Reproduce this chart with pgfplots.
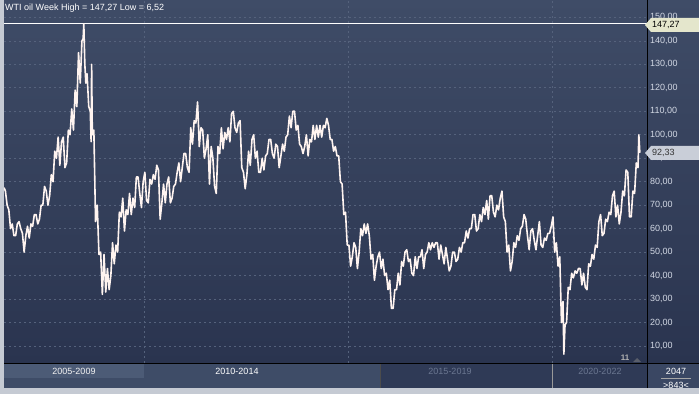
\documentclass[border=0pt]{standalone}
\usepackage{fontspec}
\setmainfont{Liberation Sans}
\usepackage{pgfplots}
\pgfplotsset{compat=1.18}
\definecolor{bgtop}{HTML}{3F4C67}
\definecolor{bgbot}{HTML}{2A344F}
\definecolor{gridc}{HTML}{55627C}
\definecolor{linec}{HTML}{FFF4F0}
\definecolor{framec}{HTML}{C5CAD3}
\definecolor{tickc}{HTML}{D2D8E4}
\definecolor{cellA}{HTML}{3E4C67}
\definecolor{cellHi}{HTML}{4C5B76}
\definecolor{cellD}{HTML}{2F3A56}
\definecolor{cellP}{HTML}{3A4763}
\definecolor{dimtext}{HTML}{6B7791}
\definecolor{tagY}{HTML}{E4E6CC}
\definecolor{tagG}{HTML}{C9CED8}
\pgfplotstableread{
m v
0.85 77.5
1.25 76
1.75 70
2.25 68
2.75 60
3.25 62
3.75 57
4.25 57
4.75 62
5.25 63
5.75 60
6.25 58
6.75 50
7.25 57
7.75 61
8.25 56
8.75 62
9.25 61
9.75 66
10.25 66
10.75 62
11.25 64
11.75 70
12.25 70
12.75 78
13.25 76
13.75 70
14.25 74
14.75 83
15.25 80
15.75 93
16.25 90
16.75 99
17.25 87
17.75 97
18.25 99
18.75 86
19.25 88
19.75 102
20.25 100
20.75 111
21.25 102
21.75 119
22.25 112
22.75 135
23.25 122
23.75 140
24.1 141
24.3 147.27
24.6 130
24.9 122
25.25 126
25.75 112
26.2 110
26.45 97
26.6 130
26.8 100
27.25 102
27.75 63
28.25 70
28.75 49
29.25 50
29.75 32
30.25 49
30.75 33
31.25 43
31.75 34
32.25 40
32.75 54
33.25 45
33.75 53
34.25 50
34.75 67
35.25 65
35.75 73
36.25 59
36.75 68
37.25 66
37.75 75
38.25 66
38.75 73
39.25 69
39.75 82
40.25 82
40.75 75
41.25 69
41.75 80
42.25 84
42.75 72
43.25 71
43.75 81
44.25 79
44.75 83
45.25 81
45.75 87
46.25 85
46.75 64
47.25 71
47.75 79
48.25 71
48.75 79
49.25 82
49.75 71
50.25 73
50.75 78
51.25 79
51.75 84
52.25 88
52.75 80
53.25 86
53.75 92
54.25 92
54.75 86
55.25 84
55.75 103
56.25 96
56.75 106
57.25 105
57.75 114
58.25 95
58.75 103
59.25 102
59.75 90
60.25 94
60.75 100
61.25 79
61.75 95
62.25 90
62.75 78
63.25 75
63.75 95
64.25 92
64.75 103
65.25 94
65.75 101
66.25 98
66.75 103
67.25 97
67.75 109
68.25 110
68.75 103
69.25 101
69.75 105
70.25 106
70.75 86
71.25 84
71.75 77
72.25 83
72.75 93
73.25 87
73.75 98
74.25 100
74.75 90
75.25 93
75.75 84
76.25 84
76.75 90
77.25 85
77.75 91
78.25 92
78.75 98
79.25 98
79.75 92
80.25 90
80.75 96
81.25 95
81.75 86
82.25 91
82.75 96
83.25 93
83.75 99
84.25 100
84.75 108
85.25 103
85.75 110
86.25 110
86.75 102
87.25 104
87.75 96
88.25 95
88.75 92
89.25 95
89.75 100
90.25 91
90.75 98
91.25 97
91.75 104
92.25 98
92.75 104
93.25 99
93.75 104
94.25 99
94.75 104
95.25 103
95.75 107
96.25 104
96.75 98
97.25 98
97.75 93
98.25 95
98.75 91
99.25 91
99.75 80
100.25 79
100.75 66
101.25 67
101.75 53
102.25 53
102.75 44
103.25 48
103.75 54
104.25 52
104.75 43
105.25 50
105.75 60
106.25 57
106.75 62
107.25 58
107.75 62
108.25 57
108.75 47
109.25 49
109.75 38
110.25 44
110.75 48
111.25 50
111.75 43
112.25 47
112.75 40
113.25 41
113.75 34
114.25 38
114.75 26
115.25 26
115.75 34
116.25 34
116.75 41
117.25 36
117.75 46
118.25 44
118.75 50
119.25 51
119.75 46
120.25 47
120.75 41
121.25 40
121.75 48
122.25 43
122.75 48
123.25 48
123.75 51
124.25 43
124.75 49
125.25 50
125.75 54
126.25 51
126.75 54
127.25 52
127.75 54
128.25 54
128.75 47
129.25 53
129.75 49
130.25 45
130.75 52
131.25 47
131.75 42
132.25 44
132.75 50
133.25 50
133.75 46
134.25 47
134.75 52
135.25 50
135.75 54
136.25 54
136.75 59
137.25 56
137.75 60
138.25 60
138.75 66
139.25 66
139.75 59
140.25 60
140.75 66
141.25 63
141.75 69
142.25 66
142.75 72
143.25 64
143.75 74
144.25 74
144.75 67
145.25 65
145.75 70
146.25 68
146.75 73
147.25 76
147.75 65
148.25 63
148.75 50
149.25 53
149.75 42
150.25 46
150.75 54
151.25 52
151.75 57
152.25 55
152.75 60
153.25 61
153.75 66
154.25 64
154.75 57
155.25 51
155.75 59
156.25 60
156.75 55
157.25 51
157.75 57
158.25 63
158.75 53
159.25 52
159.75 56
160.25 55
160.75 58
161.25 58
161.75 61
162.25 65
162.75 50
163.25 54
163.75 44
164.25 48
164.75 20
165.2 29
165.45 6.52
165.8 19
166.25 20
166.75 35
167.25 34
167.75 41
168.25 39
168.75 42
169.25 41
169.75 43
170.25 43
170.75 36
171.25 41
171.75 35
172.25 34
172.75 45
173.25 44
173.75 49
174.25 47
174.75 53
175.25 52
175.75 63
176.25 66
176.75 57
177.25 58
177.75 64
178.25 63
178.75 67
179.25 66
179.75 74
180.25 76
180.75 65
181.25 70
181.75 62
182.25 67
182.75 76
183.25 74
183.75 85
184.25 84
184.75 65
185.25 65
185.75 76
186.25 75
186.75 88
187.25 86
187.5 100
187.8 92.33
}\oil
\begin{document}
\begin{tikzpicture}[x=1pt,y=1pt]
\useasboundingbox (0,0) rectangle (699,394);
\fill[framec] (0,0) rectangle (699,394);
\shade[top color=bgtop, bottom color=bgbot] (4,31) rectangle (647,394);
\shade[top color=bgtop, bottom color=bgbot] (647,31) rectangle (699,394);
% bottom bar
\fill[cellA] (4,6) rectangle (380,31);
\fill[cellHi] (4,16) rectangle (144,30);
\fill[cellD] (380,6) rectangle (647,31);
\fill[cellP] (647,6) rectangle (699,31);
\draw[black!70, line width=0.6pt] (380,6) -- (380,30);
\draw[black!40, line width=0.4pt] (552,6) -- (552,30);
\node[font=\fontsize{9}{10}\selectfont, text=white!90!gray] at (74,23) {2005-2009};
\node[font=\fontsize{9}{10}\selectfont, text=white] at (237,23) {2010-2014};
\node[font=\fontsize{9}{10}\selectfont, text=dimtext] at (450,23) {2015-2019};
\node[font=\fontsize{9}{10}\selectfont, text=dimtext] at (600,23) {2020-2022};
\node[font=\fontsize{9}{10}\selectfont, text=white] at (676,23) {2047};
\draw[gray!70, line width=0.5pt] (661,15.5) -- (691,15.5);
\node[font=\fontsize{9}{10}\selectfont, text=white] at (676,9) {>843<};
\begin{axis}[at={(4pt,31pt)}, anchor=south west,
  scale only axis, width=643pt, height=362pt,
  xmin=0.83, xmax=189.9, ymin=2.75, ymax=157,
  axis line style={draw=none},
  xtick={42,102,162}, xticklabels={},
  ytick={10,20,...,150},
  yticklabel pos=right,
  major tick length=0pt,
  grid=major,
  major grid style={gridc, dash pattern=on 2pt off 3pt, line width=0.7pt},
  yticklabel style={font=\fontsize{9}{10}\selectfont, text=tickc, anchor=west, inner sep=0pt, xshift=3pt},
  /pgf/number format/.cd, fixed, fixed zerofill, precision=2, use comma, 1000 sep={}, assume math mode=true]
\addplot[white, line width=1pt, mark=none] coordinates {(0.83,147.27) (189.9,147.27)};
\addplot[linec, line width=1.6pt, line join=round, mark=none] table[x=m, y=v] {\oil};
\end{axis}
% separators
\draw[black, line width=0.8pt] (647,6) -- (647,394);
\draw[black, line width=0.8pt] (4,31) -- (699,31);
% title
\node[anchor=west, font=\fontsize{9}{10}\selectfont, text=white, inner sep=0pt] at (5,386) {WTI oil Week High = 147,27 Low = 6,52};
% tags
\fill[tagY] (645,369) -- (651,376) -- (699,376) -- (699,362) -- (651,362) -- cycle;
\node[anchor=west, font=\fontsize{9}{10}\selectfont, text=black, inner sep=0pt] at (652,369) {147,27};
\fill[tagG] (645,241) -- (651,248) -- (699,248) -- (699,234) -- (651,234) -- cycle;
\node[anchor=west, font=\fontsize{9}{10}\selectfont, text=black!80, inner sep=0pt] at (652,241) {92,33};
% bottom marker
\node[font=\bfseries\fontsize{8}{9}\selectfont, text=gray!60!white] at (625,36) {11};
\fill[gray!55!bgbot] (633,32) -- (637,36) -- (641,32) -- cycle;
\end{tikzpicture}
\end{document}
